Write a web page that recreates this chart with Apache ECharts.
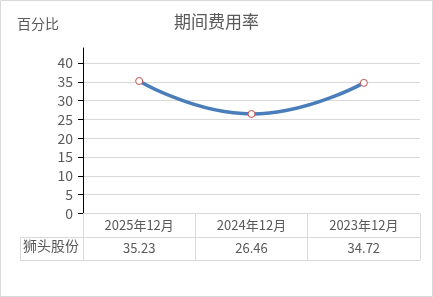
<!DOCTYPE html>
<html>
<head>
<meta charset="utf-8">
<script src="https://cdn.jsdelivr.net/npm/echarts@6/dist/echarts.min.js"></script>
<style>html,body{margin:0;padding:0;background:#fff}#c{width:433px;height:297px}</style>
</head>
<body>
<div id="c"></div>
<script>
var categories = ['2025年12月', '2024年12月', '2023年12月'];
var seriesName = '狮头股份';
var values = [35.23, 26.46, 34.72];
var yTicks = [0, 5, 10, 15, 20, 25, 30, 35, 40];
var titleText = '期间费用率';
var yName = '百分比';

var FONT = '"Noto Sans CJK SC", "Microsoft YaHei", sans-serif';
var GRAY = '#595959';
var BORDER = '#d9d9d9';
var chart = echarts.init(document.getElementById('c'), null, {renderer: 'canvas'});
chart.setOption({
  animation: false,
  textStyle: {fontFamily: FONT},
  title: {
    text: titleText, left: 'center', top: 8,
    textStyle: {fontSize: 17, fontWeight: 'normal', color: GRAY, fontFamily: FONT}
  },
  grid: {left: 83, right: 13, top: 48, bottom: 83.5},
  xAxis: {
    type: 'category', data: categories, boundaryGap: true,
    axisLine: {show: true, lineStyle: {color: BORDER, width: 1}},
    axisTick: {show: true, interval: 0, length: 46.5, lineStyle: {color: BORDER, width: 1}},
    axisLabel: {
      interval: 0, margin: 0, color: GRAY, fontSize: 13,
      formatter: function (v, i) { return '{c|' + v + '}\n{v|' + values[i].toFixed(2) + '}'; },
      rich: {
        c: {fontSize: 13, lineHeight: 23, color: GRAY, fontFamily: FONT},
        v: {fontSize: 13, lineHeight: 23, color: GRAY, fontFamily: FONT}
      }
    },
    splitLine: {show: false}
  },
  yAxis: {
    type: 'value', min: 0, max: 44, interval: 5,
    axisLine: {show: true, lineStyle: {color: '#000', width: 1}},
    axisTick: {show: true, length: 5, customValues: yTicks, lineStyle: {color: '#000'}},
    axisLabel: {color: GRAY, fontSize: 14, margin: 10, customValues: yTicks},
    splitLine: {show: true, lineStyle: {color: BORDER, width: 1}}
  },
  series: [{
    name: seriesName, type: 'line', data: values, smooth: true,
    lineStyle: {color: '#4a7ebb', width: 3.5},
    symbol: 'circle', symbolSize: 7,
    itemStyle: {color: '#ffffff', borderColor: '#c0504d', borderWidth: 1}
  }],
  graphic: [
    {type: 'rect', silent: true, z: -1, shape: {x: 0.5, y: 0.5, width: 432, height: 296}, style: {fill: null, stroke: BORDER, lineWidth: 1}},
    {type: 'text', left: 17, top: 17, style: {text: yName, fontSize: 14, fill: GRAY, fontFamily: FONT}},
    {type: 'line', silent: true, shape: {x1: 20, y1: 237.5, x2: 420, y2: 237.5}, style: {stroke: BORDER, lineWidth: 1}},
    {type: 'line', silent: true, shape: {x1: 20, y1: 260.5, x2: 420, y2: 260.5}, style: {stroke: BORDER, lineWidth: 1}},
    {type: 'line', silent: true, shape: {x1: 20.5, y1: 237.5, x2: 20.5, y2: 260.5}, style: {stroke: BORDER, lineWidth: 1}},
    {type: 'text', left: 23, top: 239, style: {text: seriesName, fontSize: 14, fill: GRAY, fontFamily: FONT}}
  ]
});
</script>
</body>
</html>
